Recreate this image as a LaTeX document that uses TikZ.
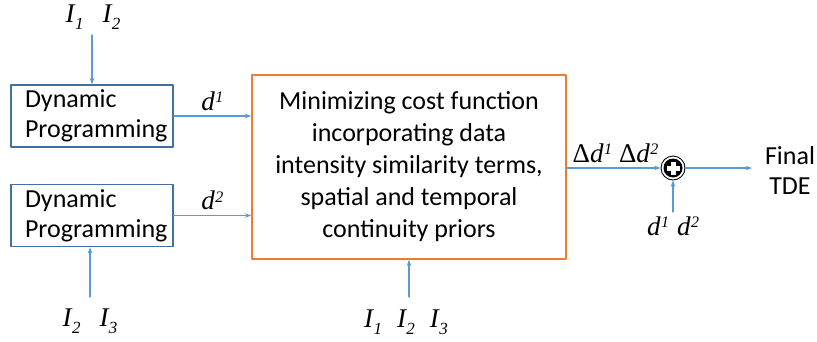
\documentclass[tikz,border=0pt]{standalone}
\usepackage{fontspec}
\setmainfont{Carlito}
\newfontfamily\tms{Liberation Serif}
\usetikzlibrary{arrows.meta,positioning,calc}
\definecolor{flow}{HTML}{5B9BD5}
\definecolor{dpline}{HTML}{41719C}
\definecolor{cost}{HTML}{ED7D31}
\definecolor{ink}{HTML}{000000}
\newcommand{\isub}[1]{{\tms\itshape I\kern0.5pt\raisebox{-7pt}{\fontsize{17}{17}\selectfont #1}}}
\newcommand{\dsup}[1]{{\tms\itshape d\kern0.5pt\raisebox{7.5pt}{\fontsize{16}{16}\selectfont #1}}}
\tikzset{
  >={Stealth[length=2.2mm,width=1.6mm]},
  every picture/.style={line cap=round, line join=round},
  nohyph/.style={execute at begin node={\hyphenpenalty=10000\exhyphenpenalty=10000\relax}},
  dpbox/.style={draw=dpline, line width=1.4pt, minimum width=162pt, minimum height=62pt,
    inner sep=0pt, text width=150pt, align=left, font=\fontsize{26}{30}\selectfont, nohyph},
  costbox/.style={draw=cost, line width=1.6pt, minimum width=314pt, minimum height=184pt,
    inner sep=0pt, align=center, font=\fontsize{26}{32}\selectfont, nohyph},
  arr/.style={->, draw=flow, line width=1.1pt},
  inlbl/.style={font=\fontsize{27}{27}\selectfont, inner sep=0pt},
  dlbl/.style={font=\fontsize{27}{27}\selectfont, inner sep=0pt},
  outlbl/.style={align=center, font=\fontsize{26}{30}\selectfont, inner sep=0pt},
  sum/.style={circle, draw=ink, line width=0.9pt, minimum size=24pt, inner sep=0pt},
}
\begin{document}
\begin{tikzpicture}[x=1pt, y=-1pt]
  \useasboundingbox (0,0) rectangle (817,341);
  % ---------------- two dynamic programming stages ----------------
  \node[dpbox] (dpa) at (92,116) {\hspace*{8pt}Dynamic\\\hspace*{8pt}Programming};
  \node[dpbox] (dpb) at (92,215.5) {\hspace*{8pt}Dynamic\\\hspace*{8pt}Programming};
  \node[inlbl] (ina) at (93,17) {\isub{1}\hspace{19pt}\isub{2}};
  \node[inlbl] (inb) at (90,321) {\isub{2}\hspace{19pt}\isub{3}};
  \coordinate (ina-end) at (92,35);
  \coordinate (inb-end) at (90,297);
  \draw[arr] (ina-end) -- (dpa.north);
  \draw[arr] (inb-end) -- (inb-end |- dpb.south);

  % ---------------- cost minimization ----------------
  \node[costbox] (cost) at (409,167) {Minimizing cost function\\incorporating data\\intensity similarity terms,\\spatial and temporal\\continuity priors};
  \draw[arr] (dpa.east) -- node[above, dlbl, yshift=5pt] {\dsup{1}} (dpa.east -| cost.west);
  \draw[arr] (dpb.east) -- node[above, dlbl, yshift=5pt] {\dsup{2}} (dpb.east -| cost.west);
  \node[inlbl] (inc) at (406,322) {\isub{1}\hspace{15pt}\isub{2}\hspace{15pt}\isub{3}};
  \coordinate (inc-end) at (409,297);
  \draw[arr] (inc-end) -- (inc-end |- cost.south);

  % ---------------- update and final estimate ----------------
  \node[sum] (add) at (673,168) {};
  \fill[ink] (add.center) circle (9.5pt);
  \fill[white] ($(add.center)+(-6.5,-2.5)$) rectangle ($(add.center)+(6.5,2.5)$);
  \fill[white] ($(add.center)+(-2.5,-6.5)$) rectangle ($(add.center)+(2.5,6.5)$);
  \draw[arr] (cost.east |- add) -- node[above, dlbl, yshift=5pt, pos=0.52] {{\tms Δ}\dsup{1}\hspace{7pt}{\tms Δ}\dsup{2}} (add.west);
  \node[dlbl] (dd) at (673,226) {\dsup{1}\hspace{8pt}\dsup{2}};
  \coordinate (dd-end) at (673,212);
  \draw[arr] (dd-end) -- (add.south);
  \node[outlbl] (tde) at (790,170) {Final\\TDE};
  \coordinate (tde-end) at (752,168);
  \draw[arr] (add.east) -- (tde-end);
\end{tikzpicture}
\end{document}
